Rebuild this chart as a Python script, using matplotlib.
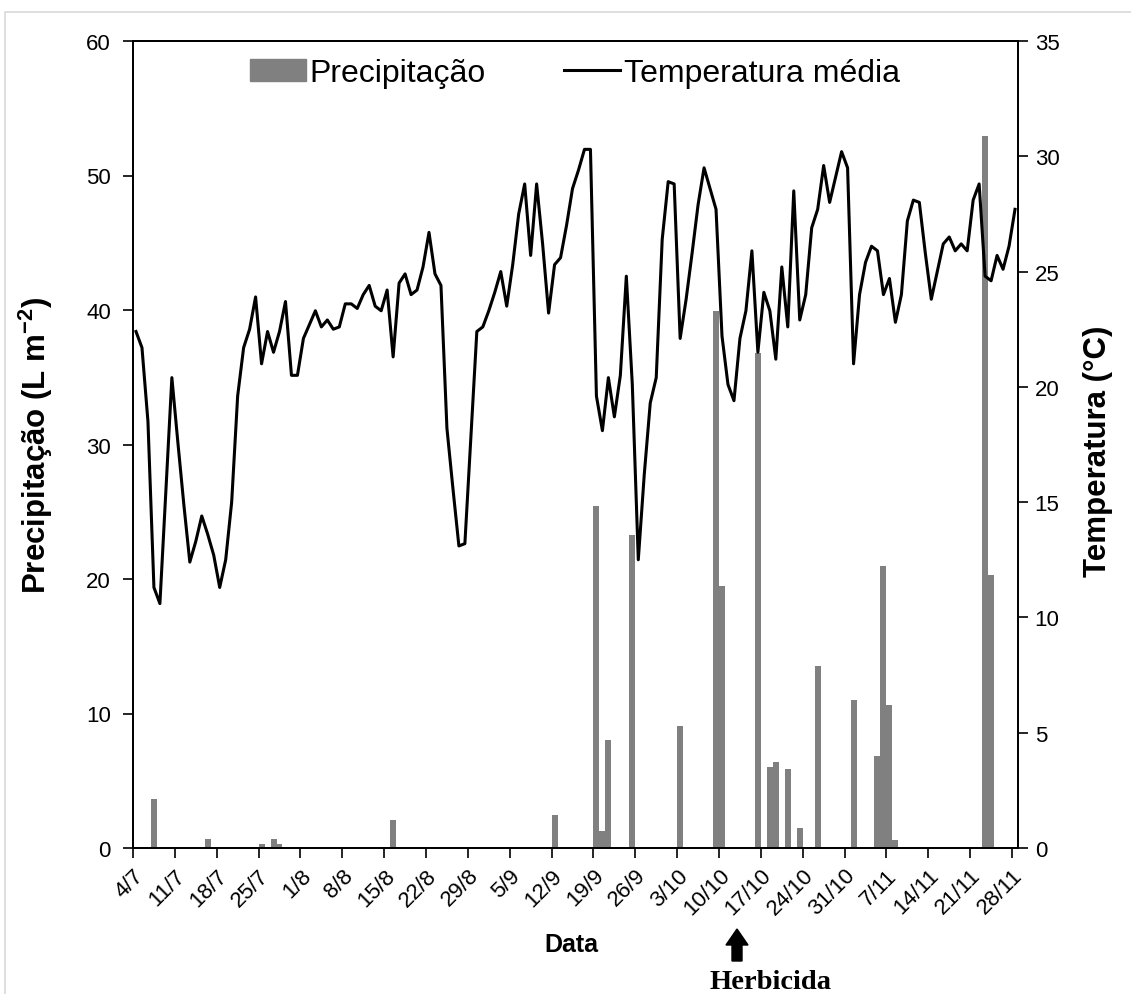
import numpy as np
import matplotlib.pyplot as plt
from matplotlib.patches import Rectangle, Polygon
from matplotlib.lines import Line2D

plt.rcParams['font.family'] = ['Liberation Sans', 'DejaVu Sans']
plt.rcParams['mathtext.fontset'] = 'custom'
plt.rcParams['mathtext.rm'] = 'Liberation Sans'
plt.rcParams['mathtext.bf'] = 'Liberation Sans:bold'

# Daily mean temperature (°C) from 4/7 to 28/11
temp = [22.4, 21.7, 18.5, 11.3, 10.6, 15.5, 20.4, 17.6, 14.9, 12.4,
        13.3, 14.4, 13.6, 12.7, 11.3, 12.5, 15.0, 19.6, 21.7, 22.5,
        23.9, 21.0, 22.4, 21.5, 22.4, 23.7, 20.5, 20.5, 22.1, 22.7,
        23.3, 22.6, 22.9, 22.5, 22.6, 23.6, 23.6, 23.4, 24.0, 24.4,
        23.5, 23.3, 24.2, 21.3, 24.5, 24.9, 24.0, 24.2, 25.2, 26.7,
        24.9, 24.4, 18.2, 15.6, 13.1, 13.2, 17.8, 22.4, 22.6, 23.3,
        24.1, 25.0, 23.5, 25.3, 27.5, 28.8, 25.7, 28.8, 26.2, 23.2,
        25.3, 25.6, 27.0, 28.6, 29.4, 30.3, 30.3, 19.6, 18.1, 20.4,
        18.7, 20.5, 24.8, 20.1, 12.5, 16.2, 19.3, 20.4, 26.4, 28.9,
        28.8, 22.1, 23.8, 25.8, 27.9, 29.5, 28.6, 27.7, 22.2, 20.1,
        19.4, 22.1, 23.3, 25.9, 21.5, 24.1, 23.3, 21.2, 25.2, 22.6,
        28.5, 22.9, 24.0, 26.9, 27.7, 29.6, 28.0, 29.1, 30.2, 29.5,
        21.0, 24.0, 25.4, 26.1, 25.9, 24.0, 24.7, 22.8, 24.0, 27.2,
        28.1, 28.0, 25.8, 23.8, 25.0, 26.2, 26.5, 25.9, 26.2, 25.9,
        28.1, 28.8, 24.8, 24.6, 25.7, 25.1, 26.1, 27.7]

# Rainy days (days after 4/7) and rainfall (L m-2)
rain_day = [3, 12, 21, 23, 24, 43, 70, 77, 78, 79, 83, 91, 97, 98,
            104, 106, 107, 109, 111, 114, 120, 124, 125, 126, 127, 142, 143]
rain_mm = [3.65, 0.67, 0.3, 0.67, 0.3, 2.1, 2.45, 25.4, 1.3, 8.0, 23.3,
           9.1, 39.9, 19.5, 36.8, 6.05, 6.4, 5.9, 1.45, 13.5, 11.0,
           6.85, 21.0, 10.65, 0.6, 52.9, 20.3]

tick_labels = ['4/7', '11/7', '18/7', '25/7', '1/8', '8/8', '15/8', '22/8',
               '29/8', '5/9', '12/9', '19/9', '26/9', '3/10', '10/10',
               '17/10', '24/10', '31/10', '7/11', '14/11', '21/11', '28/11']

n = len(temp)
x = np.arange(n) + 0.5
rain = np.zeros(n)
rain[rain_day] = rain_mm

W, H = 1131, 995
fig = plt.figure(figsize=(W / 100, H / 100), dpi=100)

# light frame around the chart area
fig.patches.append(Rectangle((5 / W, -0.1), 1.2, 1.1 - 13 / H,
                             transform=fig.transFigure, fill=False,
                             edgecolor='#d9d9d9', lw=1.2))

ax = fig.add_axes([133 / W, 1 - 849 / H, 885 / W, 807 / H])
ax.bar(x, rain, width=1.0, color='#808080', linewidth=0)
ax.set_xlim(0, n)
ax.set_ylim(0, 60)
ax.set_yticks(np.arange(0, 61, 10))
ax.set_xticks(np.arange(0, n, 7))
ax.set_xticklabels(tick_labels, rotation=45, ha='right',
                   rotation_mode='anchor', fontsize=16)
ax.tick_params(axis='y', labelsize=16, direction='out', length=7,
               width=1.2, pad=9)
ax.tick_params(axis='x', direction='out', length=7, width=1.2, pad=5)

ax2 = ax.twinx()
ax2.plot(x, temp, color='black', lw=2.2)
ax2.set_ylim(0, 35)
ax2.set_yticks(np.arange(0, 36, 5))
ax2.tick_params(axis='y', labelsize=16, direction='out', length=7,
                width=1.2, pad=5)

for a in (ax, ax2):
    for s in a.spines.values():
        s.set_linewidth(1.3)
        s.set_color('black')

fig.text(36 / W, 1 - 445 / H, r'Precipitação (L m$^{\mathbf{-2}}$)',
         rotation=90, ha='center', va='center', fontsize=22.5,
         fontweight='bold')
fig.text(1098 / W, 1 - 451 / H, 'Temperatura (°C)', rotation=90,
         ha='center', va='center', fontsize=22.5, fontweight='bold')

handles = [Rectangle((0, 0), 1, 1, color='#808080'),
           Line2D([0], [0], color='black', lw=2.2)]
fig.legend(handles, ['Precipitação', 'Temperatura média'], ncol=2,
           loc='center', bbox_to_anchor=(575 / W, 1 - 74 / H),
           frameon=False, fontsize=23, handlelength=1.75,
           handletextpad=0.12, columnspacing=2.45)

fig.text(571 / W, 1 - 945 / H, 'Data', ha='center', va='center',
         fontsize=18, fontweight='bold')

# arrow marking the herbicide application
ax_c, tip, neck, base = 737, 930, 946, 962
arrow = Polygon([(ax_c, tip), (ax_c + 11, neck), (ax_c + 5, neck),
                 (ax_c + 5, base), (ax_c - 5, base), (ax_c - 5, neck),
                 (ax_c - 11, neck)], closed=True, color='black')
arrow.set_xy([(px / 100, (H - py) / 100) for px, py in arrow.get_xy()])
arrow.set_transform(fig.dpi_scale_trans)
fig.patches.append(arrow)
fig.text(771 / W, 1 - 983 / H, 'Herbicida', ha='center', va='center',
         fontsize=20.5, fontweight='bold', family='Liberation Serif')

fig.savefig('out.png', dpi=100)
